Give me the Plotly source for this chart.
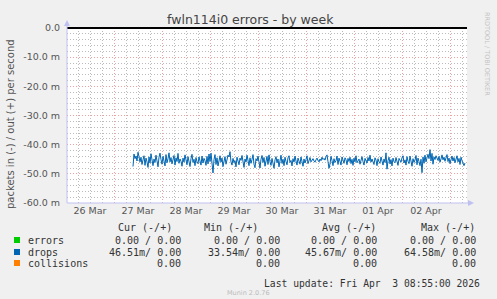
import pandas as pd
import plotly.graph_objects as go

# ---------------- data ----------------
start_time = "2026-03-27 09:30"
step = "30min"
drops_in = [
    -47.5,-43.2,-44.8,-43.9,-45.6,-42.6,-44.1,-45.9,-44.3,-46.8,-45.2,-43.8,-47.1,-44.6,-45.9,-47.8,-44.2,-46.3,-43.1,-45.7,-47.2,-44.9,-46.1,-43.6,
    -45.8,-47.6,-44.3,-42.9,-45.1,-46.7,-44.0,-45.5,-47.3,-43.4,-46.2,-44.8,-42.8,-45.9,-44.4,-46.6,-45.0,-43.7,-47.0,-44.5,-45.8,-43.0,-46.4,-44.9,
    -45.7,-47.4,-44.6,-46.0,-43.5,-45.2,-46.9,-44.1,-45.6,-47.5,-44.8,-43.3,-46.1,-45.0,-47.2,-44.4,-45.9,-46.5,-44.2,-45.4,-47.0,-43.9,-46.3,-44.7,
    -45.5,-47.1,-44.0,-46.6,-43.2,-45.8,-42.9,-46.3,-49.7,-45.1,-43.4,-46.8,-44.5,-47.3,-45.2,-43.8,-46.0,-44.6,-47.5,-45.3,-44.1,-46.7,-45.0,-43.6,
    -44.2,-42.4,-45.9,-47.0,-44.7,-46.2,-45.5,-47.6,-44.3,-45.8,-46.9,-44.6,-45.4,-43.7,-46.5,-47.8,-44.9,-46.0,-43.6,-45.3,-47.2,-44.5,-46.4,-45.1,
    -43.4,-46.7,-47.9,-44.8,-45.6,-43.9,-46.3,-48.0,-45.0,-43.7,-46.1,-44.4,-47.4,-45.7,-44.0,-46.8,-43.5,-45.9,-47.1,-44.7,-46.0,-48.1,-45.2,-44.1,
    -46.2,-44.9,-47.6,-45.3,-43.6,-46.4,-45.0,-47.2,-44.3,-45.8,-46.9,-44.5,-43.8,-46.1,-45.4,-47.3,-44.8,-46.0,-43.9,-45.6,-47.0,-44.6,-45.9,-46.7,
    -44.2,-45.7,-47.4,-44.9,-46.3,-45.1,-43.8,-46.5,-45.0,-44.4,-45.9,-45.3,-44.8,-45.6,-46.0,-45.2,-44.6,-45.4,-45.9,-44.9,-45.5,-44.3,-45.1,-44.7,
    -45.3,-44.1,-43.5,-45.8,-48.1,-46.6,-44.0,-45.4,-47.2,-44.8,-46.1,-45.5,-43.9,-46.8,-44.6,-45.7,-47.0,-44.2,-45.9,-46.4,-44.5,-45.2,-46.9,-44.7,
    -45.8,-44.3,-46.5,-45.0,-47.1,-44.6,-45.9,-43.8,-46.2,-45.4,-44.9,-46.7,-45.3,-44.1,-45.8,-47.0,-44.7,-45.5,-46.3,-44.4,-45.6,-43.6,-46.0,-44.9,
    -45.7,-46.8,-44.5,-45.3,-47.2,-44.8,-45.9,-46.4,-44.2,-45.6,-47.0,-44.9,-46.1,-42.8,-48.4,-45.5,-44.3,-46.6,-45.1,-47.3,-44.6,-45.8,-46.2,-44.4,
    -45.9,-47.1,-44.7,-45.4,-46.0,-44.5,-43.8,-46.3,-45.2,-47.0,-44.1,-45.7,-46.5,-43.9,-45.6,-47.4,-44.8,-46.1,-45.3,-43.7,-46.9,-44.6,-45.8,-47.2,
    -45.0,-49.6,-44.2,-46.4,-43.6,-45.9,-44.5,-43.3,-44.8,-41.7,-45.6,-43.0,-46.7,-44.2,-45.1,-43.8,-44.6,-45.4,-44.0,-46.0,-44.9,-43.5,-45.2,-44.3,
    -45.7,-44.1,-43.4,-45.8,-44.6,-46.5,-45.2,-43.9,-45.6,-44.4,-46.2,-45.0,-43.8,-45.9,-44.7,-46.8,-44.3,-45.5,-46.4,-47.2,-46.3,
]
x_range = ["2026-03-26 00:30", "2026-04-03 08:30"]
y_ticks = [0, -10, -20, -30, -40, -50, -60]
y_tick_labels = ["0.0", "-10.0 m", "-20.0 m", "-30.0 m", "-40.0 m", "-50.0 m", "-60.0 m"]

title = "fwln114i0 errors - by week"
y_title = "packets in (-) / out (+) per second"
legend_names = ["errors", "drops", "collisions"]
legend_colors = ["#00CC00", "#0066B3", "#FF8000"]
col_headers = ["Cur (-/+)", "Min (-/+)", "Avg (-/+)", "Max (-/+)"]
rows = [
    ["0.00 / 0.00", "0.00 / 0.00", "0.00 / 0.00", "0.00 / 0.00"],
    ["46.51m/ 0.00", "33.54m/ 0.00", "45.67m/ 0.00", "64.58m/ 0.00"],
    ["0.00", "0.00", "0.00", "0.00"],
]
last_update = "Last update: Fri Apr\u00a0\u00a03 08:55:00 2026"
version = "Munin 2.0.76"
watermark = "RRDTOOL / TOBI OETIKER"

# ---------------- figure ----------------
W, H = 497, 299
L, R, T, B = 67, 467, 28, 203   # plot area in pixels


def px(xp):
    return (xp - L) / (R - L)


def py(yp):
    return (B - yp) / (B - T)


times = pd.date_range(start_time, periods=len(drops_in), freq=step)

fig = go.Figure()
fig.add_trace(go.Scatter(x=times, y=drops_in, mode="lines",
                         line=dict(color="#0066B3", width=1), hoverinfo="skip"))

sans = "DejaVu Sans"
mono = "DejaVu Sans Mono"
major_col = "#F0A0A0"
minor_col = "#BBBBBB"

fig.update_layout(
    width=W, height=H,
    margin=dict(l=L, r=W - R, t=T, b=H - B, pad=0),
    paper_bgcolor="#F0F0F0", plot_bgcolor="#FFFFFF",
    showlegend=False,
    xaxis=dict(
        type="date", range=x_range,
        tick0="2026-03-26", dtick=86400000,
        tickformat="%d %b", ticklabelmode="period",
        showgrid=True, gridcolor=major_col, griddash="1px,2px", gridwidth=1,
        minor=dict(dtick=6 * 3600000, showgrid=True, gridcolor=minor_col,
                   griddash="1px,2px", gridwidth=1),
        showline=False, zeroline=False, ticks="",
        tickfont=dict(family=sans, size=9.5, color="#555555"),
        fixedrange=True,
    ),
    yaxis=dict(
        range=[-60, 0],
        tickvals=y_ticks, ticktext=y_tick_labels,
        showgrid=True, gridcolor=major_col, griddash="1px,2px", gridwidth=1,
        minor=dict(dtick=2, showgrid=True, gridcolor=minor_col,
                   griddash="1px,2px", gridwidth=1),
        zeroline=True, zerolinecolor="#000000", zerolinewidth=1.5,
        showline=False, ticks="outside", ticklen=4, tickcolor="rgba(0,0,0,0)",
        tickfont=dict(family=sans, size=9.5, color="#555555"),
        fixedrange=True,
    ),
)

axis_col = "#C0C0F0"
shapes = [
    # y-axis line with arrow
    dict(type="line", xref="x domain", yref="y domain", x0=0, x1=0,
         y0=0, y1=1 + 4 / 175, line=dict(color=axis_col, width=1)),
    dict(type="path", xref="x domain", yref="y domain",
         path=f"M {-3/400} {1+2/175} L {3/400} {1+2/175} L 0 {1+8/175} Z",
         fillcolor=axis_col, line=dict(width=0)),
    # x-axis line with arrow
    dict(type="line", xref="x domain", yref="y domain", x0=0, x1=1 + 2 / 400,
         y0=0, y1=0, line=dict(color=axis_col, width=1)),
    dict(type="path", xref="x domain", yref="y domain",
         path=f"M {1+1/400} {-3/175} L {1+1/400} {3/175} L {1+7/400} 0 Z",
         fillcolor=axis_col, line=dict(width=0)),
]

annotations = [
    dict(text=title, xref="paper", yref="paper", x=px(250), y=py(19),
         showarrow=False, xanchor="center", yanchor="middle",
         font=dict(family=sans, size=12.5, color="#444444")),
    dict(text=y_title, xref="paper", yref="paper", x=px(10), y=py(124),
         showarrow=False, textangle=-90, xanchor="center", yanchor="middle",
         font=dict(family=sans, size=10, color="#555555")),
    dict(text=watermark, xref="paper", yref="paper", x=px(487), y=py(54),
         showarrow=False, textangle=90, xanchor="center", yanchor="middle",
         font=dict(family=sans, size=6.5, color="#C4C4C4")),
    dict(text=version, xref="paper", yref="paper", x=px(248), y=py(293),
         showarrow=False, xanchor="center", yanchor="middle",
         font=dict(family=sans, size=6.5, color="#BBBBBB")),
    dict(text=last_update, xref="paper", yref="paper", x=px(482), y=py(283),
         showarrow=False, xanchor="right", yanchor="middle",
         font=dict(family=mono, size=9.7, color="#333333")),
]

header_right = [174, 260, 378, 477]
value_right = [183, 282, 379, 478]
row_y = [240, 252, 263]
for xr, h in zip(header_right, col_headers):
    annotations.append(dict(text=h, xref="paper", yref="paper", x=px(xr), y=py(227),
                            showarrow=False, xanchor="right", yanchor="middle",
                            font=dict(family=mono, size=10, color="#333333")))
for i, (name, col, vals) in enumerate(zip(legend_names, legend_colors, rows)):
    yy = row_y[i]
    shapes.append(dict(type="rect", xref="paper", yref="paper",
                       x0=px(14), x1=px(20), y0=py(yy - 3), y1=py(yy + 3),
                       fillcolor=col, line=dict(width=0)))
    annotations.append(dict(text=name, xref="paper", yref="paper", x=px(26), y=py(yy),
                            showarrow=False, xanchor="left", yanchor="middle",
                            font=dict(family=mono, size=10, color="#333333")))
    for xr, v in zip(value_right, vals):
        annotations.append(dict(text=v, xref="paper", yref="paper", x=px(xr), y=py(yy),
                                showarrow=False, xanchor="right", yanchor="middle",
                                font=dict(family=mono, size=10, color="#333333")))

fig.update_layout(shapes=shapes, annotations=annotations)
fig.write_html("out.html")
